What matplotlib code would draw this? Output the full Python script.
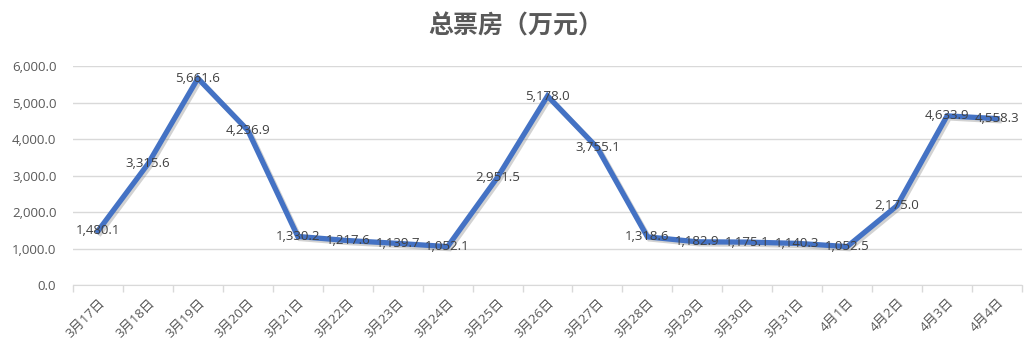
import matplotlib.pyplot as plt
import matplotlib.patheffects as pe
import numpy as np

plt.rcParams['font.family'] = ['Open Sans', 'Noto Sans CJK SC', 'DejaVu Sans']

dates = ["3月17日", "3月18日", "3月19日", "3月20日", "3月21日", "3月22日", "3月23日",
         "3月24日", "3月25日", "3月26日", "3月27日", "3月28日", "3月29日", "3月30日",
         "3月31日", "4月1日", "4月2日", "4月3日", "4月4日"]
box_office = [1480.1, 3315.6, 5661.6, 4236.9, 1330.2, 1217.6, 1139.7, 1052.1, 2951.5,
              5178.0, 3755.1, 1318.6, 1182.9, 1175.1, 1140.3, 1052.5, 2175.0, 4633.9, 4558.3]

fig = plt.figure(figsize=(10.31, 3.55), dpi=100)
ax = fig.add_axes([73 / 1031, 1 - 285 / 355, (1022 - 73) / 1031, (285 - 66) / 355])

x = np.arange(len(dates))
ax.plot(x, box_office, color="#4472C4", linewidth=3.8, solid_joinstyle="miter",
        path_effects=[pe.SimpleLineShadow(offset=(1.5, -1.5), shadow_color="gray", alpha=0.35),
                      pe.Normal()], zorder=3)

for xi, v in zip(x, box_office):
    ax.text(xi, v, f"{v:,.1f}", ha="center", va="center", fontsize=9.5,
            color="#404040", zorder=4)

ax.set_xlim(-0.5, len(dates) - 0.5)
ax.set_ylim(0, 6000)
ax.set_yticks(np.arange(0, 6001, 1000))
ax.set_yticklabels([f"{v:,.1f}" for v in range(0, 6001, 1000)])
ax.yaxis.grid(True, color="#D9D9D9", linewidth=1)
ax.set_axisbelow(True)

ax.set_xticks(x)
ax.set_xticklabels(dates, rotation=45, ha="right", rotation_mode="anchor")
ax.set_xticks(np.arange(-0.5, len(dates)), minor=True)
ax.tick_params(axis="x", which="major", length=0, pad=8, labelsize=9.5, colors="#595959")
ax.tick_params(axis="x", which="minor", length=5, color="#D9D9D9", width=1)
ax.tick_params(axis="y", length=0, pad=12, labelsize=9.5, colors="#595959")

for side in ["top", "right", "left"]:
    ax.spines[side].set_visible(False)
ax.spines["bottom"].set_color("#D9D9D9")

fig.text(0.5, 1 - 27 / 355, "总票房（万元）", ha="center", va="center",
         fontsize=18, fontweight="bold", color="#595959")

fig.savefig("out.png", dpi=100)
